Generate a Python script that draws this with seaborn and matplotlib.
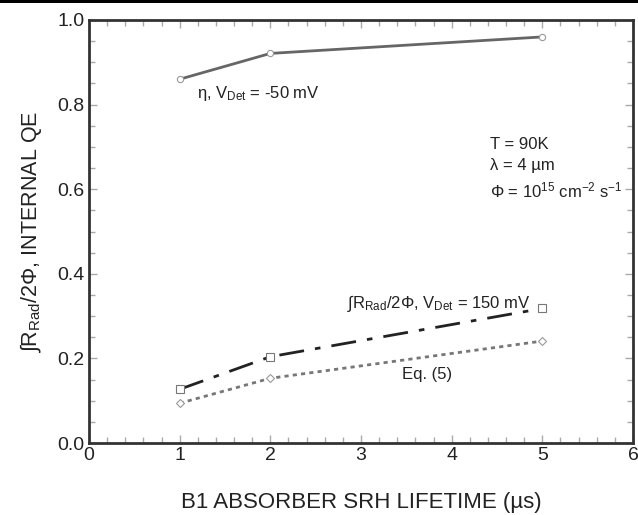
import matplotlib
matplotlib.use("Agg")
import matplotlib.pyplot as plt
import seaborn as sns
import pandas as pd
from matplotlib.ticker import MultipleLocator
from matplotlib.patches import Rectangle

# Data
lifetime = [1, 2, 5]
eta = [0.860, 0.921, 0.960]
rad_ratio = [0.127, 0.204, 0.318]
eq5 = [0.094, 0.153, 0.241]

sns.set_style("ticks")
plt.rcParams['font.family'] = ['Liberation Sans', 'DejaVu Sans']
plt.rcParams['mathtext.fontset'] = 'custom'
plt.rcParams['mathtext.rm'] = 'Liberation Sans'
plt.rcParams['mathtext.it'] = 'Liberation Sans'

fig = plt.figure(figsize=(6.38, 5.15), dpi=100)
ax = fig.add_axes([89/638, 1-443/515, (633-89)/638, (443-20)/515])

df_eta = pd.DataFrame({"x": lifetime, "y": eta})
df_rad = pd.DataFrame({"x": lifetime, "y": rad_ratio})
df_eq = pd.DataFrame({"x": lifetime, "y": eq5})

sns.lineplot(data=df_eta, x="x", y="y", ax=ax, color="#666666", lw=2,
             marker="o", markersize=4.5, markerfacecolor="white",
             markeredgecolor="#999999", markeredgewidth=0.8)
sns.lineplot(data=df_rad, x="x", y="y", ax=ax, color="#222222", lw=2,
             marker="s", markersize=6, markerfacecolor="white",
             markeredgecolor="#777777", markeredgewidth=0.8)
ax.lines[-1].set_dashes([9, 4, 2, 4])
sns.lineplot(data=df_eq, x="x", y="y", ax=ax, color="#777777", lw=2,
             marker="D", markersize=4, markerfacecolor="white",
             markeredgecolor="#999999", markeredgewidth=0.8)
ax.lines[-1].set_dashes([1.5, 1.5])

ax.set_xlim(0, 6)
ax.set_ylim(0, 1.0)
ax.xaxis.set_minor_locator(MultipleLocator(0.2))
ax.yaxis.set_minor_locator(MultipleLocator(0.05))
ax.set_xticks([0, 1, 2, 3, 4, 5, 6])
ax.set_xticklabels(["0", "1", "2", "3", "4", "5", "6"])
ax.set_yticks([0.0, 0.2, 0.4, 0.6, 0.8, 1.0])
ax.set_yticklabels(["0.0", "0.2", "0.4", "0.6", "0.8", "1.0"])
ax.tick_params(which="both", direction="in", top=True, right=True,
               color="#aaaaaa", labelsize=14, labelcolor="#222222")
ax.tick_params(which="major", length=6, width=1, pad=3)
ax.tick_params(which="minor", length=4, width=1)
for s in ax.spines.values():
    s.set_visible(True)
    s.set_linewidth(2)
    s.set_color("#333333")

ax.set_xlabel("B1 ABSORBER SRH LIFETIME (µs)", fontsize=16, labelpad=20, color="#222222")
ax.set_ylabel(r"∫R$_{\mathrm{Rad}}$/2Φ, INTERNAL QE", fontsize=15.5, labelpad=10, color="#222222")

tk = dict(fontsize=12, color="#222222")
ax.text(1.19, 0.827, r"η, V$_{\mathrm{Det}}$ = -50 mV", ha="left", va="center", **tk)
ax.text(2.85, 0.33, r"∫R$_{\mathrm{Rad}}$/2Φ, V$_{\mathrm{Det}}$ = 150 mV", ha="left", va="center", **tk)
ax.text(3.45, 0.163, "Eq. (5)", ha="left", va="center", **tk)
ax.text(4.42, 0.705, "T = 90K", ha="left", va="center", **tk)
ax.text(4.42, 0.655, "λ = 4 µm", ha="left", va="center", **tk)
ax.text(4.42, 0.598, r"Φ = 10$^{15}$ cm$^{-2}$ s$^{-1}$", ha="left", va="center", **tk)

fig.patches.append(Rectangle((0, 1-3/515), 1, 3/515, transform=fig.transFigure,
                             facecolor="black", edgecolor="none"))

fig.savefig("out.png", dpi=100)
